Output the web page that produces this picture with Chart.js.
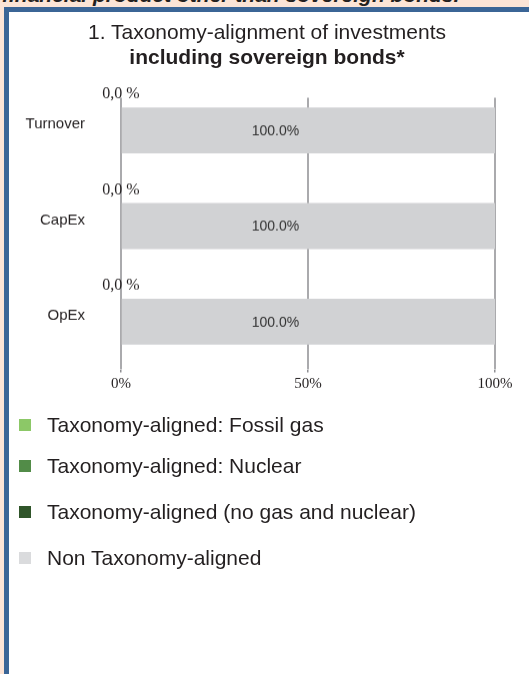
<!DOCTYPE html>
<html>
<head>
<meta charset="utf-8">
<title>Taxonomy-alignment of investments</title>
<script src="https://cdn.jsdelivr.net/npm/chart.js@4.4.1/dist/chart.umd.min.js"></script>
<style>
  html, body { margin: 0; padding: 0; }
  body {
    width: 529px; height: 674px; overflow: hidden; position: relative;
    background: #fce4d6; color: #231f20;
    font-family: "Liberation Sans", Arial, sans-serif;
  }
  #heading {
    position: absolute; left: 2px; top: -16px; white-space: nowrap;
    font: italic bold 21px/21px "Liberation Sans", Arial, sans-serif;
  }
  #box {
    position: absolute; left: 4px; top: 7px; width: 520px; height: 662px;
    background: #fff; border-left: 5px solid #3b6596; border-top: 5px solid #3b6596;
  }
  #title {
    position: absolute; left: 0; top: 8px; width: 516px; text-align: center;
    font-size: 21px; line-height: 24.5px;
  }
  #title b { font-weight: bold; }
  #chartWrap { position: absolute; left: 0; top: 0; width: 520px; height: 401.5px; }
  #legend { position: absolute; left: 10px; top: 390px; }
  .item { height: 46px; display: flex; align-items: center; font-size: 21px; }
  .item:first-child { margin-bottom: -5px; }
  .swatch { width: 12px; height: 12px; margin-right: 16px; }
</style>
</head>
<body>
<div id="heading">financial product other than sovereign bonds.</div>
<div id="box">
  <div id="chartWrap"><canvas id="myChart"></canvas></div>
  <div id="title"><span id="titleLine1"></span><br><b id="titleLine2"></b></div>
  <div id="legend"></div>
</div>
<script>
var titleLines = ["1. Taxonomy-alignment of investments", "including sovereign bonds*"];
var categories = ["Turnover", "CapEx", "OpEx"];
var seriesNames = [
  "Taxonomy-aligned: Fossil gas",
  "Taxonomy-aligned: Nuclear",
  "Taxonomy-aligned (no gas and nuclear)",
  "Non Taxonomy-aligned"
];
var fossilGas = [0, 0, 0];
var nuclear = [0, 0, 0];
var alignedOther = [0, 0, 0];
var nonAligned = [100, 100, 100];
var xTicks = [0, 50, 100];
var colors = ["#8cc867", "#528c48", "#30552a", "#d1d2d4"];

var sans = "'Liberation Sans', Arial, sans-serif";
var serif = "'Liberation Serif', 'Times New Roman', serif";
var gridColor = "#8e8e92";

document.getElementById("titleLine1").textContent = titleLines[0];
document.getElementById("titleLine2").textContent = titleLines[1];

// vertical gridlines, start a bit below the top of the plot area
var gridPlugin = {
  id: "gridPlugin",
  beforeDatasetsDraw: function (chart) {
    var ctx = chart.ctx, x = chart.scales.x, area = chart.chartArea;
    ctx.save();
    ctx.strokeStyle = gridColor;
    ctx.lineWidth = 1.5;
    x.ticks.forEach(function (t) {
      var px = x.getPixelForValue(t.value);
      ctx.beginPath();
      ctx.moveTo(px, area.top + 15);
      ctx.lineTo(px, area.bottom);
      ctx.stroke();
    });
    ctx.restore();
  }
};

// value labels: "0,0 %" above the bars, "100.0%" inside
var labelPlugin = {
  id: "labelPlugin",
  afterDatasetsDraw: function (chart) {
    var ctx = chart.ctx;
    ctx.save();
    ctx.fillStyle = "#231f20";
    ctx.textAlign = "center";
    ctx.textBaseline = "middle";
    ctx.font = "16px " + serif;
    chart.getDatasetMeta(2).data.forEach(function (bar, i) {
      ctx.fillText(alignedOther[i].toFixed(1).replace(".", ",") + " %", bar.x, bar.y - bar.height / 2 - 13);
    });
    ctx.fillStyle = "#333333";
    ctx.font = "14px " + sans;
    chart.getDatasetMeta(3).data.forEach(function (bar, i) {
      ctx.fillText(nonAligned[i].toFixed(1) + "%", (bar.x + bar.base) / 2 - 33, bar.y + 1);
    });
    ctx.restore();
  }
};

var seriesData = [fossilGas, nuclear, alignedOther, nonAligned];
var datasets = seriesData.map(function (d, i) {
  return {
    label: seriesNames[i],
    data: d,
    backgroundColor: colors[i],
    borderWidth: 0,
    barPercentage: 0.48,
    categoryPercentage: 1
  };
});

var ctx = document.getElementById("myChart");
var myChart = new Chart(ctx, {
  type: "bar",
  data: { labels: categories, datasets: datasets },
  plugins: [gridPlugin, labelPlugin],
  options: {
    indexAxis: "y",
    responsive: true,
    maintainAspectRatio: false,
    animation: false,
    layout: { padding: { left: 0, right: 34, top: 70.5, bottom: 10.5 } },
    scales: {
      x: {
        stacked: true,
        min: 0,
        max: 100,
        afterBuildTicks: function (scale) {
          scale.ticks = xTicks.map(function (v) { return { value: v }; });
        },
        border: { display: false },
        grid: { drawOnChartArea: false, drawTicks: true, tickLength: 3, color: gridColor, lineWidth: 1.5 },
        ticks: {
          padding: 3,
          color: "#231f20",
          font: { family: serif, size: 15 },
          callback: function (v) { return v + "%"; }
        }
      },
      y: {
        stacked: true,
        afterFit: function (scale) { scale.width = 112; },
        border: { display: false },
        grid: { display: false, drawTicks: false },
        ticks: {
          padding: 36,
          labelOffset: -6,
          color: "#231f20",
          font: { family: sans, size: 15 }
        }
      }
    },
    plugins: {
      legend: { display: false },
      tooltip: { enabled: false }
    }
  }
});

// legend as a plain list, one row per series
var legend = document.getElementById("legend");
seriesNames.forEach(function (name, i) {
  var item = document.createElement("div");
  item.className = "item";
  var sw = document.createElement("span");
  sw.className = "swatch";
  sw.style.background = i === 3 ? "#dadbdd" : colors[i];
  var txt = document.createElement("span");
  txt.textContent = name;
  item.appendChild(sw);
  item.appendChild(txt);
  legend.appendChild(item);
});
</script>
</body>
</html>
